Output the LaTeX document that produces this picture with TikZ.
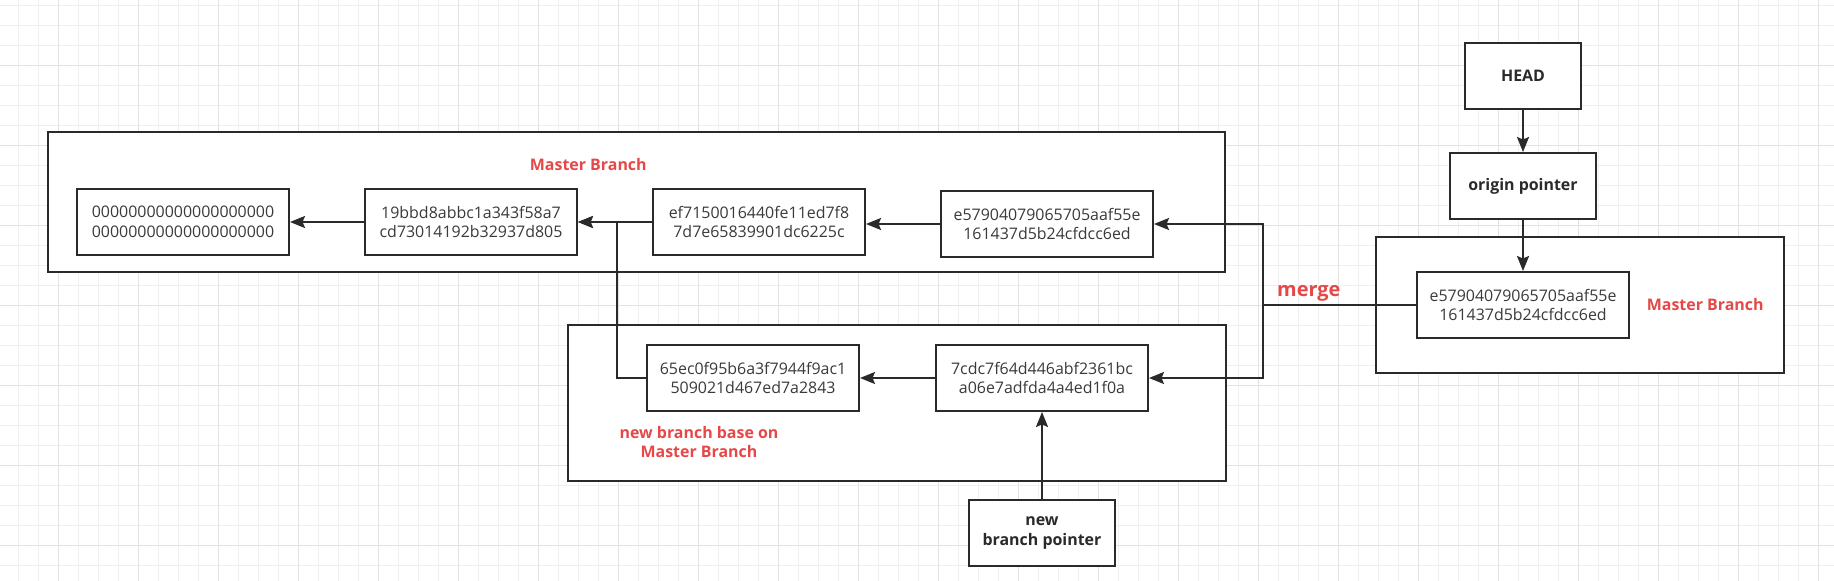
\documentclass[tikz,border=0pt]{standalone}
\usepackage{fontspec}
\setmainfont{Open Sans}
\usetikzlibrary{arrows.meta}
\definecolor{ink}{RGB}{42,42,42}
\definecolor{txt}{RGB}{58,58,58}
\definecolor{lbl}{RGB}{230,72,72}
\definecolor{gminor}{RGB}{240,240,240}
\definecolor{gmajor}{RGB}{226,226,226}
\begin{document}
\begin{tikzpicture}[x=1bp,y=-1bp,
  commit/.style={draw=ink, line width=2bp, fill=white, minimum width=212bp, minimum height=66bp, inner sep=0pt, align=center, font=\fontsize{16}{20}\selectfont, text=txt},
  ptr/.style={draw=ink, line width=2bp, fill=white, minimum height=66bp, inner sep=0pt, align=center, font=\fontsize{16}{20}\selectfont\bfseries, text=ink},
  frame/.style={draw=ink, line width=2bp, fill=white, inner sep=0pt},
  redlbl/.style={text=lbl, font=\fontsize{16}{20}\selectfont\bfseries, align=center, inner sep=0pt},
  conn/.style={draw=ink, line width=2bp},
  arr/.style={conn, -{Stealth[length=15bp,width=12bp,inset=2.5bp]}},
]
\useasboundingbox (0,0) rectangle (1834,581);
\fill[white] (0,0) rectangle (1834,581);
% background grid
\foreach \x in {18.5,38.5,...,1834} \draw[gminor, line width=1bp] (\x,0) -- (\x,581);
\foreach \y in {5.5,25.5,...,581} \draw[gminor, line width=1bp] (0,\y) -- (1834,\y);
\foreach \x in {58.5,138.5,...,1834} \draw[gmajor, line width=1bp] (\x,0) -- (\x,581);
\foreach \y in {65.5,145.5,...,581} \draw[gmajor, line width=1bp] (0,\y) -- (1834,\y);

% frames
\node[frame, minimum width=1177bp, minimum height=140bp] (mframe) at (636.5,202) {};
\node[frame, minimum width=658bp, minimum height=156bp] (bframe) at (897,403) {};
\node[frame, minimum width=408bp, minimum height=136bp] (rframe) at (1580,305) {};

% commits, master branch
\node[commit] (n0) at (183,222) {00000000000000000000\\00000000000000000000};
\node[commit] (n1) at (471,222) {19bbd8abbc1a343f58a7\\cd73014192b32937d805};
\node[commit] (n2) at (759,222) {ef7150016440fe11ed7f8\\7d7e65839901dc6225c};
\node[commit] (n3) at (1047,224) {e57904079065705aaf55e\\161437d5b24cfdcc6ed};
\node[redlbl, anchor=base] (lm) at (588.3,171) {Master Branch};

% commits, new branch
\node[commit] (n4) at (753,378) {65ec0f95b6a3f7944f9ac1\\509021d467ed7a2843};
\node[commit] (n5) at (1042,378) {7cdc7f64d446abf2361bc\\a06e7adfda4a4ed1f0a};
\node[redlbl] (lb) at (699,442) {new branch base on\\Master Branch};

% pointers
\node[ptr, minimum width=146bp] (np) at (1042,533) {new\\branch pointer};
\node[ptr, minimum width=116bp] (head) at (1523,76) {HEAD};
\node[ptr, minimum width=146bp] (orig) at (1523,186) {origin pointer};

% right master branch
\node[commit] (n6) at (1523,305) {e57904079065705aaf55e\\161437d5b24cfdcc6ed};
\node[redlbl, anchor=base] (lr) at (1705.2,310) {Master Branch};
\node[redlbl, anchor=base, font=\fontsize{20}{24}\selectfont\bfseries] (lmg) at (1308.8,296.7) {merge};

% connectors
\draw[arr] (n1.west) -- (n0.east);
\draw[arr] (n2.west) -- (n1.east);
\draw[arr] (n3.west) -- (n3.west -| n2.east);
\draw[arr] (n5.west) -- (n4.east);
\draw[arr] (n4.west) -- ++(-29,0) |- (n1.east);
\coordinate (m) at (1263,305);
\draw[conn] (n6.west) -- (m);
\draw[arr] (m) |- (n3.east);
\draw[arr] (m) |- (n5.east);
\draw[arr] (head.south) -- (orig.north);
\draw[arr] (orig.south) -- (n6.north);
\draw[arr] (np.north) -- (n5.south);
\end{tikzpicture}
\end{document}
